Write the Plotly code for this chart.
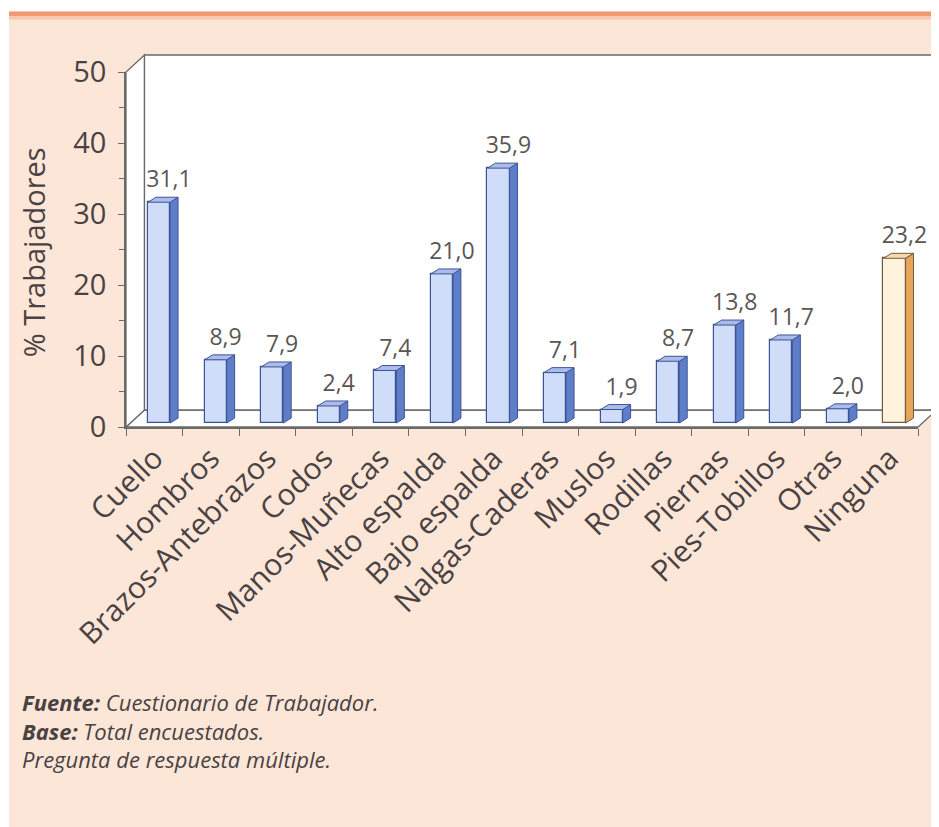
import plotly.graph_objects as go

# ---------------- data ----------------
categories = ["Cuello", "Hombros", "Brazos-Antebrazos", "Codos", "Manos-Muñecas",
              "Alto espalda", "Bajo espalda", "Nalgas-Caderas", "Muslos", "Rodillas",
              "Piernas", "Pies-Tobillos", "Otras", "Ninguna"]
values = [31.1, 8.9, 7.9, 2.4, 7.4, 21.0, 35.9, 7.1, 1.9, 8.7, 13.8, 11.7, 2.0, 23.2]
y_ticks = [0, 10, 20, 30, 40, 50]
highlight = ["Ninguna"]

# ---------------- style / geometry ----------------
OFF = 8                                    # page body margin of the html page
W, H = 939 - OFF, 827 - OFF
L, R, T, B = 126 - OFF, 918 - OFF, 71.5 - OFF, 427 - OFF   # plot area (figure px)
PW, PH = R - L, B - T
DXP, DYP = 18.5, 17                        # 3D wall depth in pixels

BASE = 0.56      # bar floor offset (data units, projection)
FRONT_OFF = -0.11
FRONT_W = 0.39
SIDE_DX = 0.14
TOP_DY = 0.7

FONT = "Open Sans"
TXT = "#4a4242"
AX = "#6a6a6a"


def px(x_page):
    return (x_page - OFF - L) / PW


def py(y_page):
    return (B - (y_page - OFF)) / PH


idx = list(range(len(categories)))
x_right = [i + FRONT_OFF + FRONT_W for i in idx]
x_left = [i + FRONT_OFF for i in idx]


def faces(indices):
    sx, sy, tx, ty = [], [], [], []
    for i in indices:
        v = values[i]
        xl, xr = x_left[i], x_right[i]
        top = BASE + v
        sx += [xr, xr, xr + SIDE_DX, xr + SIDE_DX, xr, None]
        sy += [BASE, top, top + TOP_DY, BASE + TOP_DY, BASE, None]
        tx += [xl, xr, xr + SIDE_DX, xl + SIDE_DX, xl, None]
        ty += [top, top, top + TOP_DY, top + TOP_DY, top, None]
    return sx, sy, tx, ty


fig = go.Figure()

groups = [
    ([i for i in idx if categories[i] not in highlight], "#d0ddf8", "#5f7ec9", "#abbcea", "#3d5396"),
    ([i for i in idx if categories[i] in highlight], "#fff3dc", "#e8a458", "#f7d9a8", "#6e5a45"),
]

for ind, c_front, c_side, c_top, c_line in groups:
    fig.add_trace(go.Bar(
        x=[idx[i] for i in ind], y=[values[i] for i in ind], base=BASE,
        width=FRONT_W, offset=FRONT_OFF,
        marker=dict(color=c_front, line=dict(color=c_line, width=1.2)),
        showlegend=False, hoverinfo="skip"))
    sx, sy, tx, ty = faces(ind)
    fig.add_trace(go.Scatter(x=sx, y=sy, mode="lines", fill="toself", fillcolor=c_side,
                             line=dict(color=c_line, width=1), showlegend=False, hoverinfo="skip"))
    fig.add_trace(go.Scatter(x=tx, y=ty, mode="lines", fill="toself", fillcolor=c_top,
                             line=dict(color=c_line, width=1), showlegend=False, hoverinfo="skip"))

# value labels
fig.add_trace(go.Scatter(
    x=[i + 0.26 for i in idx], y=[BASE + v + TOP_DY + 0.6 for v in values],
    mode="text", text=[f"{v:.1f}".replace(".", ",") for v in values],
    textposition="top center", textfont=dict(family=FONT, size=23, color="#5a5656"),
    cliponaxis=False, showlegend=False, hoverinfo="skip"))

# ---------------- decorative page / 3D walls ----------------
dxp, dyp = DXP / PW, DYP / PH
shapes = [
    # white scan margins
    dict(type="rect", xref="paper", yref="paper", x0=px(0), x1=px(9), y0=py(830), y1=py(0),
         fillcolor="white", line_width=0, layer="below"),
    dict(type="rect", xref="paper", yref="paper", x0=px(0), x1=px(945), y0=py(11), y1=py(0),
         fillcolor="white", line_width=0, layer="below"),
    # orange top rule
    dict(type="rect", xref="paper", yref="paper", x0=px(9), x1=px(945), y0=py(15.5), y1=py(11),
         fillcolor="#f09a74", line_width=0, layer="below"),
    dict(type="rect", xref="paper", yref="paper", x0=px(9), x1=px(945), y0=py(19), y1=py(15.5),
         fillcolor="#f8c8ae", line_width=0, layer="below"),
    # floor
    dict(type="path", xref="paper", yref="paper", layer="below",
         path=f"M 0 0 L 1 0 L {1+dxp} {dyp} L {dxp} {dyp} Z",
         fillcolor="white", line=dict(color=AX, width=1.3)),
    # left wall
    dict(type="path", xref="paper", yref="paper", layer="below",
         path=f"M 0 0 L {dxp} {dyp} L {dxp} {1+dyp} L 0 1 Z",
         fillcolor="white", line=dict(color=AX, width=1.3)),
    # back wall
    dict(type="rect", xref="paper", yref="paper", layer="below",
         x0=dxp, x1=1 + dxp, y0=dyp, y1=1 + dyp,
         fillcolor="white", line=dict(color=AX, width=1.3)),
]

footer_lines = [
    "<b><i>Fuente:</i></b><i> Cuestionario de Trabajador.</i>",
    "<b><i>Base:</i></b><i> Total encuestados.</i>",
    "<i>Pregunta de respuesta múltiple.</i>",
]

annotations = [
    dict(xref="paper", yref="paper", x=px(33), y=py(252), text="% Trabajadores",
         textangle=-90, showarrow=False, font=dict(family=FONT, size=29, color=TXT),
         xanchor="center", yanchor="middle"),
    dict(xref="paper", yref="paper", x=px(20), y=py(731), xanchor="left", yanchor="middle",
         align="left", text="<br>".join(footer_lines), showarrow=False,
         font=dict(family=FONT, size=22, color=TXT)),
]

fig.update_layout(
    width=W, height=H,
    margin=dict(l=L, r=W - R, t=T, b=H - B, pad=0),
    paper_bgcolor="#fce6d8", plot_bgcolor="rgba(0,0,0,0)",
    shapes=shapes, annotations=annotations,
    separators=",.",
    font=dict(family=FONT, color=TXT),
    bargap=0, showlegend=False,
    xaxis=dict(range=[-0.5, len(categories) - 0.5], tickmode="array", tickvals=idx,
               ticktext=categories, tickangle=-45, ticks="",
               tickfont=dict(family=FONT, size=30, color=TXT),
               minor=dict(tickmode="array", tickvals=[i - 0.5 for i in range(len(categories) + 1)],
                          ticks="outside", ticklen=7, tickcolor=AX, tickwidth=1.3),
               showline=True, linecolor=AX, linewidth=1.5, showgrid=False, zeroline=False,
               fixedrange=True),
    yaxis=dict(range=[0, 50], tickmode="array", tickvals=y_ticks, ticks="outside", ticklen=6,
               tickcolor=AX, tickwidth=1.3, ticklabelstandoff=6,
               tickfont=dict(family=FONT, size=29, color=TXT),
               minor=dict(dtick=5, tick0=0, ticks="outside", ticklen=5, tickcolor=AX, tickwidth=1.3),
               showline=True, linecolor=AX, linewidth=1.5, showgrid=False, zeroline=False,
               fixedrange=True),
)

fig.write_html("out.html")
